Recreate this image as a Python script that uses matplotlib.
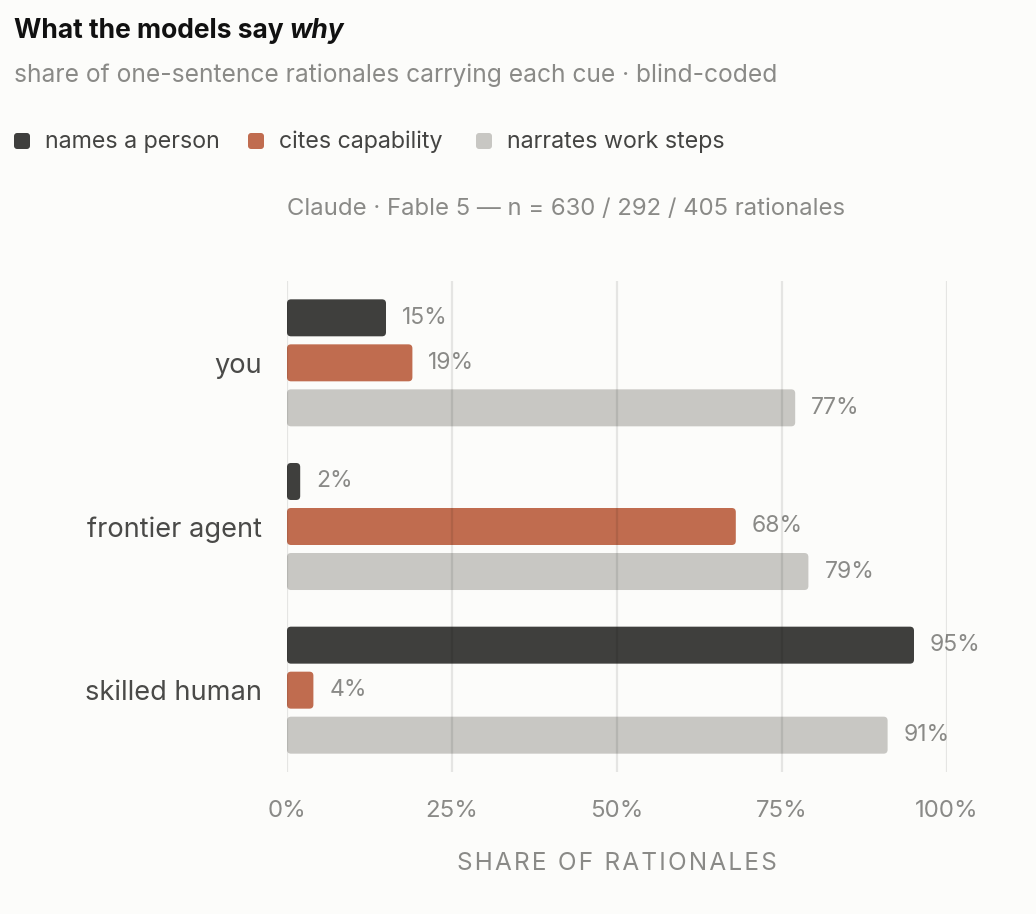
import matplotlib
matplotlib.use("Agg")
import matplotlib.pyplot as plt
from matplotlib.patches import FancyBboxPatch
import numpy as np

plt.rcParams['font.family'] = ['Inter', 'DejaVu Sans']

categories = ["you", "frontier agent", "skilled human"]
series = ["names a person", "cites capability", "narrates work steps"]
names_person = [15, 2, 95]
cites_capability = [19, 68, 4]
work_steps = [77, 79, 91]
xticks = [0, 25, 50, 75, 100]
xtick_labels = ["0%", "25%", "50%", "75%", "100%"]

colors = ['#3f3f3d', '#c06c4f', '#c8c7c3']
bg = '#fcfcfa'
W, H = 1036, 914

fig = plt.figure(figsize=(W / 100, H / 100), dpi=100, facecolor=bg)
ax = fig.add_axes([287 / W, 1 - 772 / H, 660 / W, 491 / H])
ax.set_facecolor(bg)

ind = np.arange(len(categories))
offset = 0.275
height = 0.226
px_x = 660 / 100.0
px_y = 491 / 3.0

for k, vals in enumerate([names_person, cites_capability, work_steps]):
    rects = ax.barh(ind + (k - 1) * offset, vals, height, color=colors[k], zorder=2)
    for r, v in zip(rects, vals):
        r.set_visible(False)
        rad = 4.0 / px_x
        p = FancyBboxPatch((r.get_x(), r.get_y()), r.get_width(), r.get_height(),
                           boxstyle="round,pad=0,rounding_size=%f" % rad,
                           mutation_aspect=px_x / px_y,
                           facecolor=colors[k], edgecolor='none', zorder=2)
        ax.add_patch(p)
        ax.annotate("%d%%" % v, (v, r.get_y() + r.get_height() / 2),
                    xytext=(16, 0), textcoords='offset pixels',
                    ha='left', va='center', fontsize=16.5, color='#8a8a87',
                    annotation_clip=False)

ax.set_xlim(0, 100)
ax.set_ylim(2.5, -0.5)
for xv in xticks:
    ax.axvline(xv, color='black', alpha=0.09, lw=1.6, zorder=3)
for s in ax.spines.values():
    s.set_visible(False)
ax.set_xticks(xticks)
ax.set_xticklabels(xtick_labels)
ax.set_yticks(ind)
ax.set_yticklabels(categories)
ax.tick_params(axis='x', length=0, pad=20, labelsize=17.3, labelcolor='#8a8a87')
ax.tick_params(axis='y', length=0, pad=18, labelsize=19.6, labelcolor='#4a4a48')
ax.set_xlabel("\u200a".join("SHARE OF RATIONALES"), fontsize=17.5, color='#8a8a87', labelpad=22)


def ftext(x, y, s, **kw):
    return fig.text(x / W, 1 - y / H, s, **kw)


t1 = ftext(14, 38, "What the models say ", fontsize=19, fontweight='bold', color='#111111', va='baseline')
renderer = fig.canvas.get_renderer()
bb = t1.get_window_extent(renderer)
fig.text(bb.x1 / W, 1 - 38 / H, "why", fontsize=19, fontweight='bold', style='italic',
         color='#111111', va='baseline')
ftext(14, 82, "share of one-sentence rationales carrying each cue \u00b7 blind-coded",
      fontsize=17.7, color='#8a8a87', va='baseline')

leg_x = [14, 248, 476]
for k, name in enumerate(series):
    sq = FancyBboxPatch((leg_x[k] / W, 1 - 149 / H), 16 / W, 16 / H,
                        boxstyle="round,pad=0,rounding_size=0.003",
                        mutation_aspect=W / H,
                        transform=fig.transFigure, facecolor=colors[k], edgecolor='none')
    fig.patches.append(sq)
    ftext(leg_x[k] + 31, 148, name, fontsize=16.7, color='#444442', va='baseline')

ftext(566, 215, "Claude \u00b7 Fable 5 \u2014 n = 630 / 292 / 405 rationales",
      fontsize=17.2, color='#8a8a87', ha='center', va='baseline')

fig.savefig("out.png", dpi=100, facecolor=bg)
